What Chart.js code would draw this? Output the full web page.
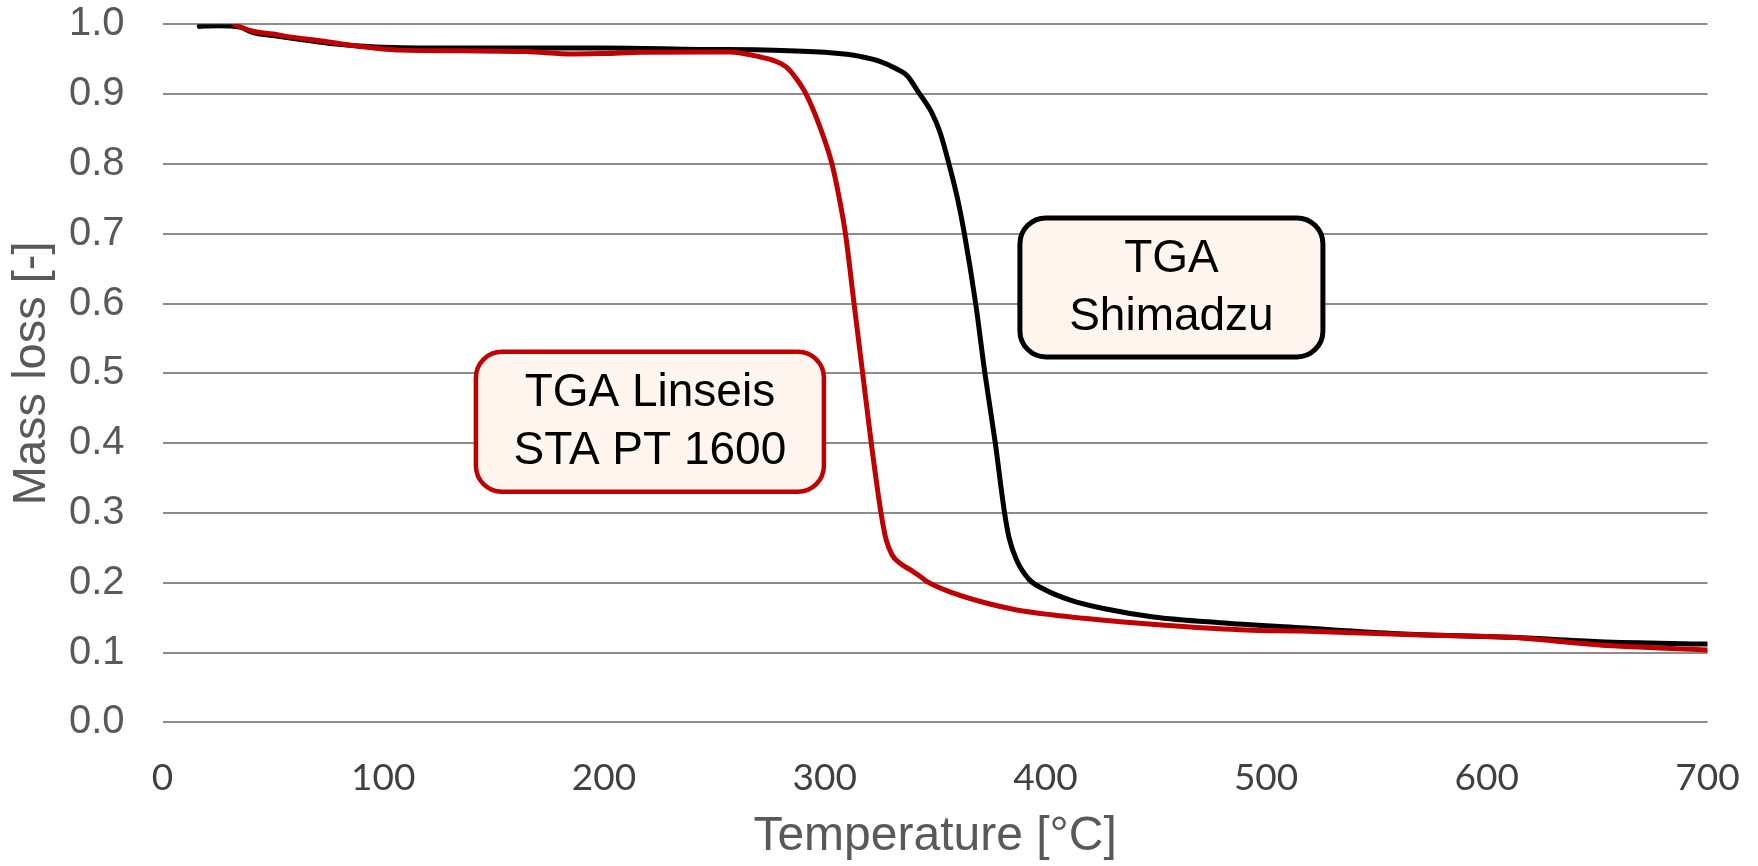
<!DOCTYPE html>
<html>
<head>
<meta charset="utf-8">
<script src="https://cdn.jsdelivr.net/npm/chart.js@4"></script>
<style>
  html, body { margin: 0; padding: 0; background: #fff; }
  #wrap { width: 1758px; height: 866px; position: relative; }
</style>
</head>
<body>
<div id="wrap"><canvas id="tgaChart"></canvas></div>
<script>
// Shimadzu TGA: temperature [°C] and mass loss [-]
var shimadzuTemp = [16.6, 25, 35, 41, 50, 61, 75, 85, 100, 120, 150, 200, 243, 277, 300, 310, 316, 325, 332, 337.5, 342.2, 348.5, 352.4, 356.3, 360.2, 363.3, 368.4, 372.6, 377.3, 381.5, 383.5, 387, 392.5, 398.5, 411.3, 426.3, 449, 479, 515.5, 560, 610.5, 651, 700];
var shimadzuMass = [0.997, 0.998, 0.996, 0.988, 0.984, 0.979, 0.973, 0.970, 0.967, 0.966, 0.966, 0.966, 0.964, 0.963, 0.960, 0.957, 0.954, 0.947, 0.937, 0.926, 0.904, 0.8735, 0.844, 0.800, 0.750, 0.700, 0.600, 0.500, 0.400, 0.300, 0.265, 0.232, 0.205, 0.192, 0.175, 0.163, 0.151, 0.1427, 0.1355, 0.127, 0.1218, 0.1155, 0.112];

// Linseis STA PT 1600
var linseisTemp = [32.7, 41, 50, 57.7, 77, 85, 107.6, 136, 165, 186, 200, 217, 257, 271.4, 277, 282.5, 286.5, 291.4, 297.7, 303.2, 306.6, 309.4, 313.3, 317.2, 321.1, 325.5, 327.8, 330.5, 333.6, 338.5, 343.3, 346.4, 358.4, 373.5, 387, 403.6, 417.3, 434, 464, 494, 515.5, 571, 610.5, 651, 700];
var linseisMass = [0.999, 0.990, 0.986, 0.982, 0.974, 0.970, 0.963, 0.962, 0.961, 0.9575, 0.958, 0.960, 0.9603, 0.9527, 0.948, 0.939, 0.925, 0.901, 0.854, 0.801, 0.751, 0.700, 0.600, 0.500, 0.400, 0.300, 0.262, 0.240, 0.229, 0.219, 0.209, 0.2015, 0.185, 0.1705, 0.161, 0.1537, 0.149, 0.144, 0.137, 0.132, 0.1308, 0.125, 0.1218, 0.1107, 0.1036];

// Tick labels
var xTickLabels = ['0', '100', '200', '300', '400', '500', '600', '700'];
var yTickLabels = ['0.0', '0.1', '0.2', '0.3', '0.4', '0.5', '0.6', '0.7', '0.8', '0.9', '1.0'];

// Callout boxes (anchored at data coordinates)
var calloutLines = [['TGA Linseis', 'STA PT 1600'], ['TGA', 'Shimadzu']];
var calloutAt = [[220.8, 0.4307], [457.1, 0.623]];

function toPoints(xs, ys) {
    return xs.map(function (x, i) { return { x: x, y: ys[i] }; });
}

// Рисуем подписи в скруглённых рамках
var calloutPlugin = {
    id: 'callouts',
    afterDatasetsDraw: function (chart) {
        var ctx = chart.ctx;
        var sx = chart.scales.x, sy = chart.scales.y;
        var styles = [
            { w: 348, h: 140, border: '#C00000', lw: 4.5 },
            { w: 303, h: 139, border: '#000000', lw: 5 }
        ];
        ctx.save();
        calloutLines.forEach(function (lines, i) {
            var cx = sx.getPixelForValue(calloutAt[i][0]);
            var cy = sy.getPixelForValue(calloutAt[i][1]);
            var st = styles[i];
            ctx.beginPath();
            ctx.roundRect(cx - st.w / 2, cy - st.h / 2, st.w, st.h, 26);
            ctx.fillStyle = '#FDF5EE';
            ctx.fill();
            ctx.lineWidth = st.lw;
            ctx.strokeStyle = st.border;
            ctx.stroke();
            ctx.fillStyle = '#000';
            ctx.font = '46px "Liberation Sans", Arial, sans-serif';
            ctx.textAlign = 'center';
            ctx.textBaseline = 'middle';
            ctx.fillText(lines[0], cx, cy - 28);
            ctx.fillText(lines[1], cx, cy + 30);
        });
        ctx.restore();
    }
};

var tgaCanvas = document.getElementById('tgaChart').getContext('2d');

var tgaChart = new Chart(tgaCanvas, {
    type: 'line',
    data: {
        datasets: [{
            label: 'TGA Shimadzu',
            data: toPoints(shimadzuTemp, shimadzuMass),
            borderColor: '#000000',
            borderWidth: 5,
            order: 2
        }, {
            label: 'TGA Linseis STA PT 1600',
            data: toPoints(linseisTemp, linseisMass),
            borderColor: '#C00000',
            borderWidth: 5,
            order: 1
        }]
    },
    options: {
        responsive: true,
        maintainAspectRatio: false,
        animation: false,
        layout: { padding: { top: 24.3, right: 50.5, left: 0, bottom: 0 } },
        elements: {
            point: { radius: 0, hoverRadius: 0 },
            line: { cubicInterpolationMode: 'monotone', borderCapStyle: 'round', borderJoinStyle: 'round' }
        },
        scales: {
            x: {
                type: 'linear',
                min: 0,
                max: 700,
                afterFit: function (scale) {
                    scale.height = 143.7;
                    scale.paddingLeft = 0;
                    scale.paddingRight = 0;
                },
                border: { display: false },
                grid: { display: false, drawTicks: false },
                ticks: {
                    stepSize: 100,
                    padding: 34,
                    color: '#404040',
                    font: { family: 'Lato', size: 37 },
                    callback: function (v) { return xTickLabels[Math.round(v / 100)]; }
                },
                title: {
                    display: true,
                    text: 'Temperature [°C]',
                    color: '#595959',
                    font: { family: 'Liberation Sans', size: 48 },
                    padding: { top: 0, bottom: 0 }
                }
            },
            y: {
                min: 0,
                max: 1,
                afterFit: function (scale) {
                    scale.width = 162.6;
                    scale.paddingTop = 0;
                    scale.paddingBottom = 0;
                },
                border: { display: false },
                grid: { color: '#8c8c8c', lineWidth: 2, drawTicks: false },
                ticks: {
                    stepSize: 0.1,
                    padding: 38,
                    color: '#595959',
                    font: { family: 'Liberation Sans', size: 40 },
                    callback: function (v) { return yTickLabels[Math.round(v * 10)]; }
                },
                title: {
                    display: true,
                    text: 'Mass loss [-]',
                    color: '#595959',
                    font: { family: 'Liberation Sans', size: 47 },
                    padding: { top: 3.5, bottom: 0 }
                }
            }
        },
        plugins: {
            legend: { display: false },
            tooltip: { enabled: false }
        }
    },
    plugins: [calloutPlugin]
});
</script>
</body>
</html>
